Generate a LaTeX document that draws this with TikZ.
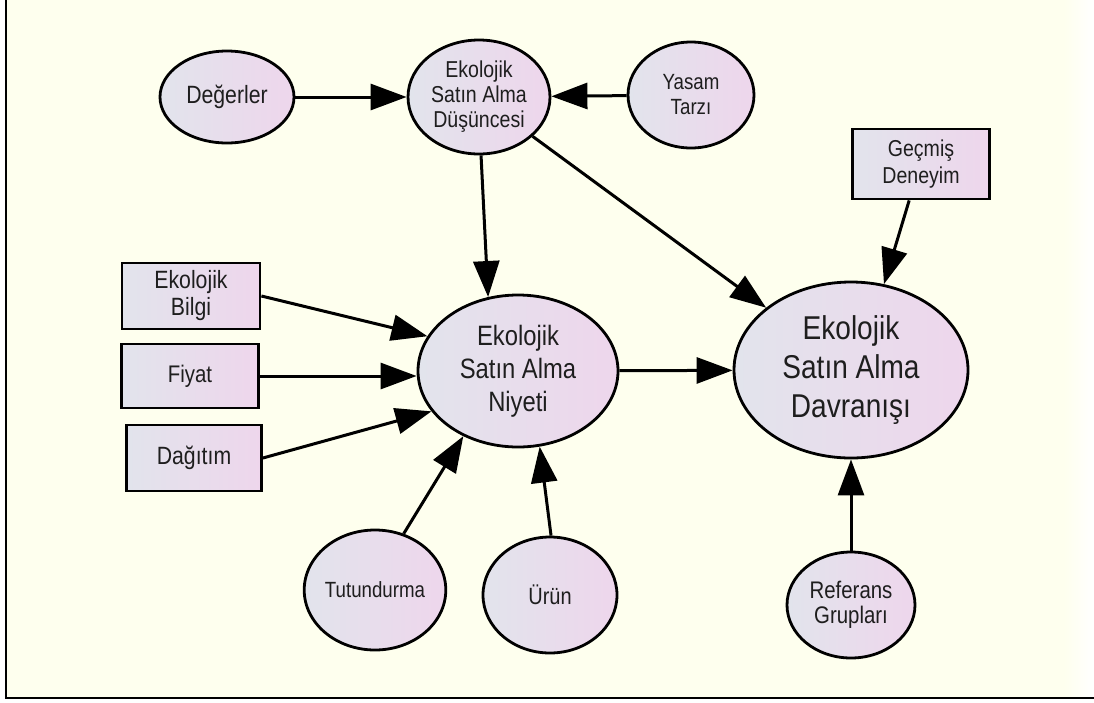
\documentclass[tikz,border=0pt]{standalone}
\usepackage{fontspec}
\setmainfont{Liberation Sans}[FakeStretch=0.85]
\usetikzlibrary{shapes.geometric,arrows.meta}
\definecolor{paper}{RGB}{254,255,238}
\definecolor{fillL}{RGB}{226,228,236}
\definecolor{fillR}{RGB}{238,214,236}
\definecolor{ink}{RGB}{30,30,30}
\newcommand\setfs[2]{\fontsize{#1pt}{#2pt}\selectfont}
\begin{document}
\begin{tikzpicture}[x=1pt,y=-1pt,
  shape base/.style={draw=black, line width=2.8pt, left color=fillL, right color=fillR,
    text=ink, align=center, inner sep=0pt},
  bubble/.style={shape base, ellipse},
  card/.style={shape base, rectangle},
  arr/.style={draw=black, line width=3pt, -{Triangle[length=36pt,width=26pt]}}]

% page and frame
\useasboundingbox (0,0) rectangle (1094,702);
\fill[white] (0,0) rectangle (1094,702);
\fill[paper] (6,0) rectangle (1094,698);
\shade[left color=paper, right color=white] (1064,0) rectangle (1094,696);
\draw[line width=2.8pt] (6,0) -- (6,698) -- (1094,698);

% top row
\node[bubble, minimum width=134pt, minimum height=92pt, font=\setfs{25}{28}] (deg) at (227,97) {Değerler};
\node[bubble, minimum width=142pt, minimum height=114pt, font=\setfs{23}{25}] (dus) at (479,97) {Ekolojik\\Satın Alma\\Düşüncesi};
\node[bubble, minimum width=126pt, minimum height=106pt, font=\setfs{22}{25}] (yas) at (691,95) {Yasam\\Tarzı};
\node[card, minimum width=137pt, minimum height=70pt, font=\setfs{23}{27}] (gec) at (921,164) {Geçmiş\\Deneyim};

% left column
\node[card, minimum width=138pt, minimum height=66pt, font=\setfs{25}{27}] (bil) at (191,296) {Ekolojik\\Bilgi};
\node[card, minimum width=137pt, minimum height=64pt, font=\setfs{24}{27}] (fiy) at (190,376) {Fiyat};
\node[card, minimum width=135pt, minimum height=66pt, font=\setfs{25}{27}] (dag) at (194,458) {Dağıtım};

% central constructs
\node[bubble, minimum width=200pt, minimum height=152pt, font=\setfs{28}{33}] (niy) at (518,371) {Ekolojik\\Satın Alma\\Niyeti};
\node[bubble, minimum width=234pt, minimum height=176pt, font=\setfs{33}{39}] (dav) at (851,370) {Ekolojik\\Satın Alma\\Davranışı};

% bottom row
\node[bubble, minimum width=136pt, minimum height=120pt, font=\setfs{22}{25}] (tut) at (375,590) {Tutundurma};
\node[bubble, minimum width=134pt, minimum height=116pt, font=\setfs{23.5}{26}] (uru) at (550,595) {Ürün};
\node[bubble, minimum width=128pt, minimum height=106pt, font=\setfs{24}{25}] (ref) at (851,605) {Referans\\Grupları};

% connectors
\draw[arr] (deg) -- (dus);
\draw[arr] (yas) -- (dus);
\draw[arr] (dus.272) -- (niy.112);
\draw[arr] (dus) -- (dav);
\draw[arr] (gec.252) -- (dav.69);
\draw[arr] (bil.east) -- (niy.159);
\draw[arr] (fiy.east) -- (fiy.east -| niy.west);
\draw[arr] (dag.east) -- (niy.205);
\draw[arr] (tut.63) -- (niy.230);
\draw[arr] (uru.89) -- (niy.286);
\draw[arr] (niy) -- (dav);
\draw[arr] (ref) -- (dav);
\end{tikzpicture}
\end{document}
